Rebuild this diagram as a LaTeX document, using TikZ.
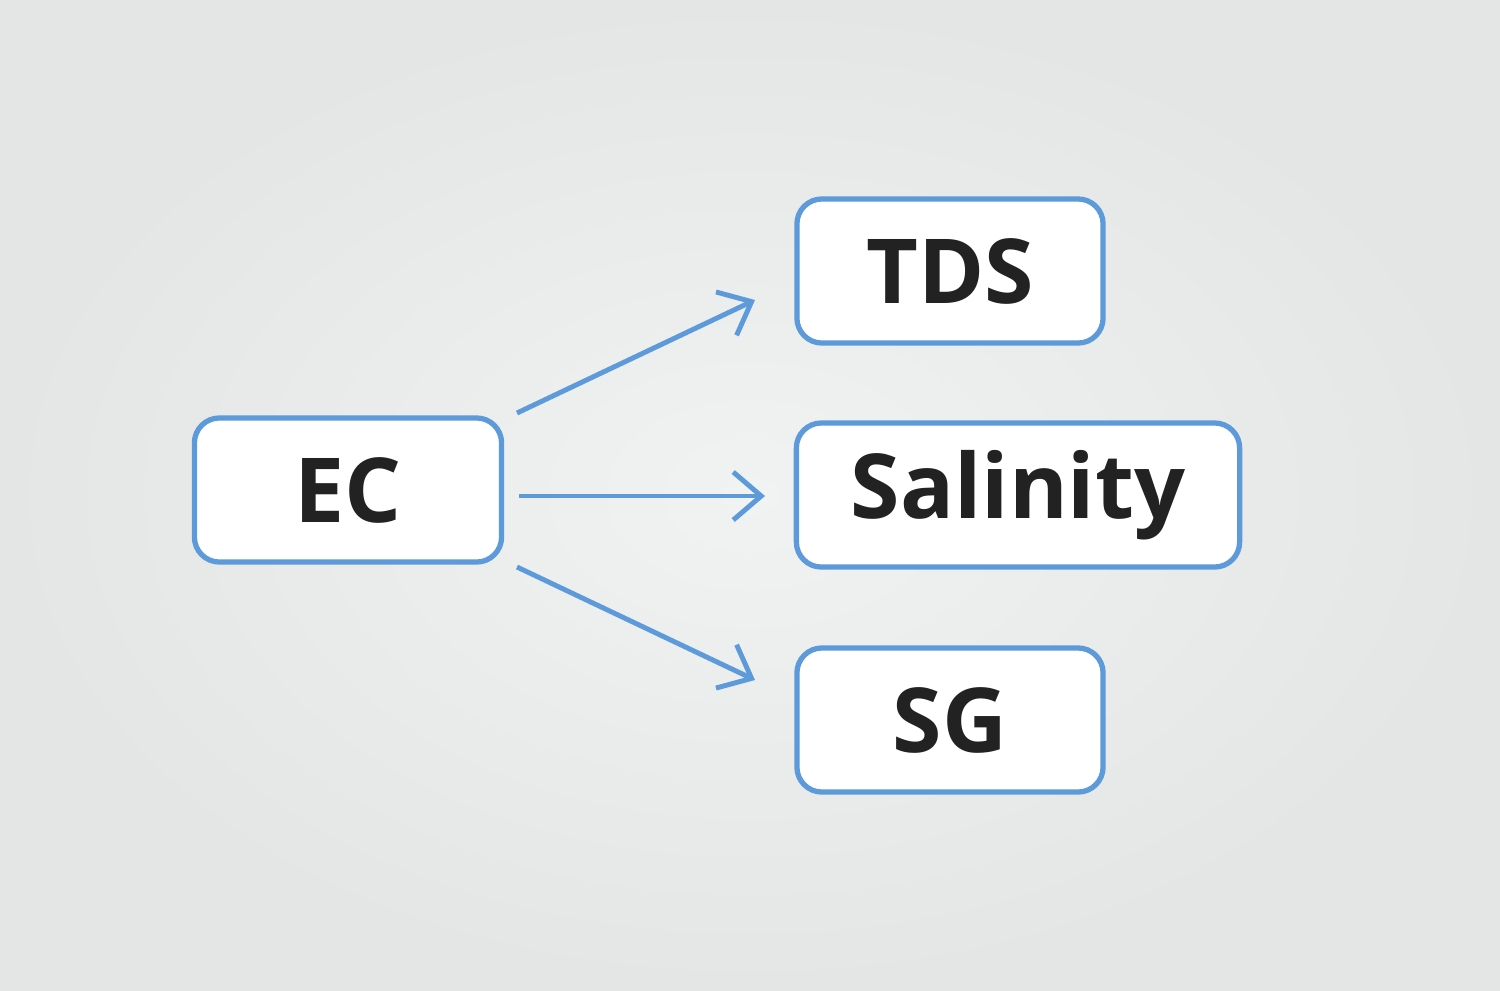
\documentclass[tikz,border=0pt]{standalone}
\usepackage{fontspec}
\setmainfont{Open Sans}
\usetikzlibrary{arrows.meta}
\definecolor{boxblue}{RGB}{92,154,218}
\definecolor{bgin}{RGB}{241,242,242}
\definecolor{bgout}{RGB}{228,229,229}
\definecolor{txt}{RGB}{34,34,34}
\tikzset{
  box/.style={draw=boxblue, line width=1.5pt, rounded corners=0.25cm, fill=white,
    inner sep=0pt, minimum height=1.44cm, text=txt,
    font=\fontsize{25.5}{28}\selectfont\bfseries},
  conn/.style={draw=boxblue, line width=1.4pt,
    -{Straight Barb[length=0.28cm, width=0.48cm, line width=1.4pt]}}
}
\begin{document}
\begin{tikzpicture}[x=0.01cm,y=-0.01cm]
\shade[inner color=bgin, outer color=bgout] (0,0) rectangle (1500,990);
\useasboundingbox (0,0) rectangle (1500,990);
\node[box, minimum width=3.07cm] (ec) at (348,490) {EC};
\node[box, minimum width=3.06cm] (tds) at (950,271) {TDS};
\node[box, minimum width=4.43cm] (sal) at (1018,495) {Salinity};
\node[box, minimum width=3.06cm] (sg) at (950,720) {SG};
\coordinate (a1s) at (517,413); \coordinate (a1e) at (755,300);
\coordinate (a2s) at (519,496); \coordinate (a2e) at (765,496);
\coordinate (a3s) at (517,567); \coordinate (a3e) at (755,680);
\draw[conn] (a1s) -- (a1e);
\draw[conn] (a2s) -- (a2e);
\draw[conn] (a3s) -- (a3e);
\end{tikzpicture}
\end{document}
